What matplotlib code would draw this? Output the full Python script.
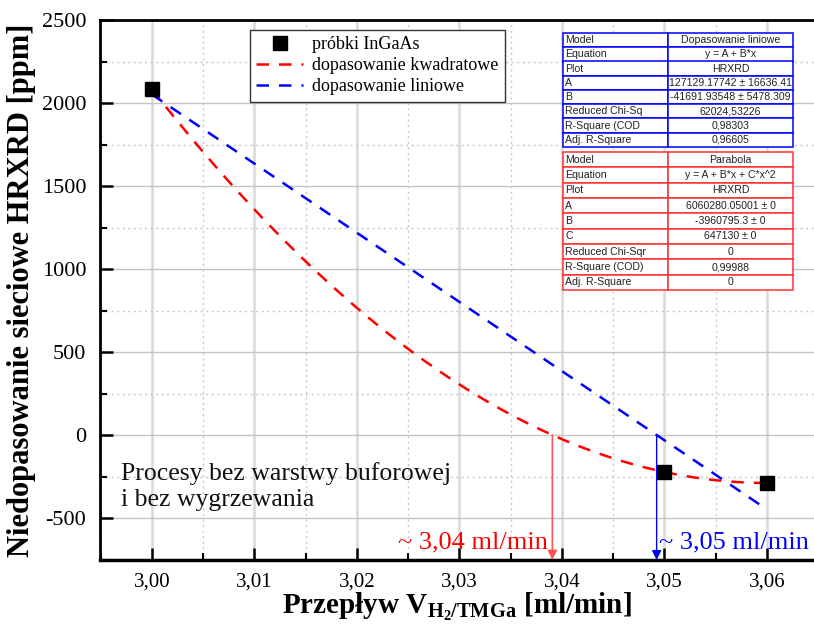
import numpy as np
import matplotlib
matplotlib.use("Agg")
import matplotlib.pyplot as plt
from matplotlib.ticker import MultipleLocator, FuncFormatter
from matplotlib.table import Table

# --- data -------------------------------------------------------------
flow = [3.00, 3.05, 3.06]            # ml/min
mismatch = [2083, -223, -289]        # ppm

linear_rows = [
    ["Model", "Dopasowanie liniowe"],
    ["Equation", "y = A + B*x"],
    ["Plot", "HRXRD"],
    ["A", "127129.17742 ± 16636.41"],
    ["B", "-41691.93548 ± 5478.309"],
    ["Reduced Chi-Sq", "62024,53226"],
    ["R-Square (COD", "0,98303"],
    ["Adj. R-Square", "0,96605"],
]
parabola_rows = [
    ["Model", "Parabola"],
    ["Equation", "y = A + B*x + C*x^2"],
    ["Plot", "HRXRD"],
    ["A", "6060280.05001 ± 0"],
    ["B", "-3960795.3 ± 0"],
    ["C", "647130 ± 0"],
    ["Reduced Chi-Sqr", "0"],
    ["R-Square (COD)", "0,99988"],
    ["Adj. R-Square", "0"],
]

note_text = "Procesy bez warstwy buforowej\ni bez wygrzewania"
legend_labels = ["próbki InGaAs", "dopasowanie kwadratowe", "dopasowanie liniowe"]

# --- style ------------------------------------------------------------
serif = "Liberation Serif"
plt.rcParams["font.family"] = [serif, "DejaVu Serif"]
plt.rcParams["mathtext.fontset"] = "custom"
plt.rcParams["mathtext.rm"] = serif
plt.rcParams["mathtext.bf"] = serif + ":bold"

fig = plt.figure(figsize=(8.14, 6.25), dpi=100)
ax = fig.add_axes([100 / 814, 65 / 625, 714 / 814, 540 / 625])

# fits
x_arr = np.array(flow)
y_arr = np.array(mismatch)
quad = np.polyfit(x_arr, y_arr, 2)
lin = np.polyfit(x_arr, y_arr, 1)
xs = np.linspace(flow[0], flow[-1], 300)

ax.plot(xs, np.polyval(quad, xs), color="red", lw=1.8, ls=(0, (5, 4)),
        label=legend_labels[1], zorder=3)
ax.plot(xs, np.polyval(lin, xs), color="blue", lw=1.8, ls=(0, (5, 4)),
        label=legend_labels[2], zorder=3)
ax.plot(flow, mismatch, ls="none", marker="s", ms=10, color="black",
        label=legend_labels[0], zorder=4)

ax.set_xlim(2.99493, 3.06459)
ax.set_ylim(-753, 2500)

# zero crossings of both fits
q_roots = np.roots(quad)
q_root = float(np.real(q_roots[(q_roots > flow[0]) & (q_roots < flow[-1])][0]))
l_root = float(-lin[1] / lin[0])
ybot = ax.get_ylim()[0]
ax.annotate("", xy=(q_root, ybot), xytext=(q_root, 0),
            arrowprops=dict(arrowstyle="-|>", color="#ff5555", lw=1.2,
                            mutation_scale=14, shrinkA=0, shrinkB=0), zorder=5)
ax.annotate("", xy=(l_root, ybot), xytext=(l_root, 0),
            arrowprops=dict(arrowstyle="-|>", color="blue", lw=1.0,
                            mutation_scale=14, shrinkA=0, shrinkB=0), zorder=5)
ax.text(q_root - 0.0004, -645, f"~ {q_root:.2f} ml/min".replace(".", ","),
        color="red", fontsize=19, ha="right", va="center")
ax.text(l_root + 0.0002, -645, f"~ {l_root:.2f} ml/min".replace(".", ","),
        color="blue", fontsize=19, ha="left", va="center")

ax.text(3.00 - 0.003, -310, note_text, fontsize=18.5, ha="left", va="center",
        linespacing=1.2, color="#111111")

# axes, ticks and grid
ax.xaxis.set_major_locator(MultipleLocator(0.01))
ax.xaxis.set_minor_locator(MultipleLocator(0.005))
ax.yaxis.set_major_locator(MultipleLocator(500))
ax.yaxis.set_minor_locator(MultipleLocator(250))
ax.xaxis.set_major_formatter(FuncFormatter(lambda v, p: f"{v:.2f}".replace(".", ",")))
ax.yaxis.set_major_formatter(FuncFormatter(lambda v, p: f"{v:.0f}"))

ax.grid(which="major", axis="x", color="#d9d9d9", lw=1.8, ls="-")
ax.grid(which="major", axis="y", color="#c4c4c4", lw=1.0, ls="-")
ax.grid(which="minor", color="#c8c8c8", lw=1.0, ls=(0, (1.5, 2.5)))
ax.set_axisbelow(True)

ax.tick_params(which="major", direction="in", length=9, width=1.8,
               labelsize=16, pad=10, top=False, right=False)
ax.tick_params(which="minor", direction="in", length=5, width=1.5,
               top=False, right=False)
ax.tick_params(axis="x", which="major", pad=9, labelsize=15)

for side in ("left", "top", "bottom"):
    ax.spines[side].set_linewidth(2.0)
ax.spines["bottom"].set_linewidth(2.5)
ax.spines["right"].set_visible(False)

ax.set_ylabel("Niedopasowanie sieciowe HRXRD [ppm]", fontsize=22,
              fontweight="bold", labelpad=4)
ax.set_xlabel(r"Przepływ V$_{\mathbf{H_2/TMGa}}$ [ml/min]", fontsize=21,
              fontweight="bold", labelpad=-1)

# legend
handles, labels = ax.get_legend_handles_labels()
order = [2, 0, 1]
leg = ax.legend([handles[i] for i in order], [labels[i] for i in order],
                loc="upper left", bbox_to_anchor=(250 / 814, 1 - 30 / 625),
                bbox_transform=fig.transFigure, fontsize=13, frameon=True,
                fancybox=False, edgecolor="#333333", framealpha=1,
                handlelength=2.6, borderpad=0.35, labelspacing=0.22,
                handletextpad=0.5, borderaxespad=0)
leg.get_frame().set_linewidth(1.0)


# fit-result tables
def draw_table(rows, color, top_px, bottom_px):
    x0, x1 = 563, 793
    col_w = [105, 125]
    fx0 = (x0 - 100) / 714
    fw = (x1 - x0) / 714
    fy_top = (560 - top_px) / 540
    fy_bot = (560 - bottom_px) / 540
    tab = Table(ax, bbox=[fx0, fy_bot, fw, fy_top - fy_bot])
    nrows = len(rows)
    h = 1.0 / nrows
    for r, (k, v) in enumerate(rows):
        for c, txt in enumerate((k, v)):
            cell = tab.add_cell(r, c, width=col_w[c] / sum(col_w), height=h,
                                text=txt, loc="left" if c == 0 else "center",
                                facecolor="white", edgecolor=color)
            cell.set_linewidth(1.1)
            cell.PAD = 0.02
            t = cell.get_text()
            t.set_fontfamily("Liberation Sans")
            t.set_fontsize(7.6)
            t.set_color("#222222")
    tab.auto_set_font_size(False)
    tab.set_zorder(6)
    ax.add_table(tab)


draw_table(linear_rows, "blue", 33, 147)
draw_table(parabola_rows, "#ff3030", 152, 290)

fig.savefig("out.png", dpi=100)
